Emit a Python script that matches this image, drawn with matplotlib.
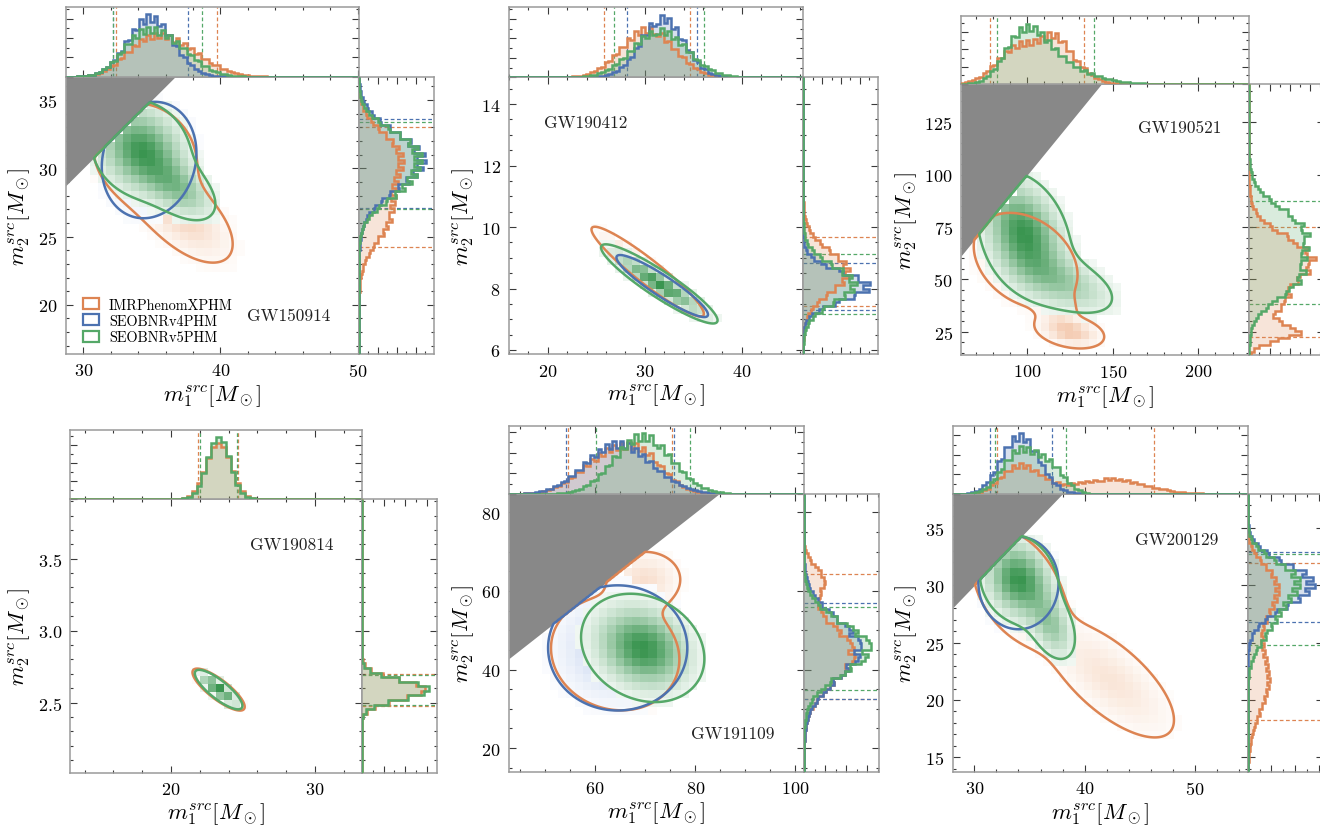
import numpy as np
import matplotlib
matplotlib.use("Agg")
import matplotlib.pyplot as plt
from matplotlib.colors import LinearSegmentedColormap, to_rgb, to_hex
from matplotlib.patches import Patch
from matplotlib.ticker import MultipleLocator, MaxNLocator, AutoMinorLocator

plt.rcParams.update({
    "font.family": "serif",
    "font.serif": ["cmr10", "DejaVu Serif"],
    "mathtext.fontset": "cm",
    "axes.formatter.use_mathtext": True,
    "axes.unicode_minus": False,
})

# ---------------------------------------------------------------------------
# Waveform models and their colours
approximants = ["IMRPhenomXPHM", "SEOBNRv4PHM", "SEOBNRv5PHM"]
colors = ["#DD8452", "#4C72B0", "#55A868"]
# colour reached at the density maximum of each shaded 2D histogram
peak_colors = ["#F4CDB4", "#B9CBEA", "#3A9550"]

events = ["GW150914", "GW190412", "GW190521", "GW190814", "GW191109", "GW200129"]

# Source-frame mass posteriors, summarised as Gaussian mixtures in (m1, m2).
# Each row: (weight, mean m1, mean m2, sd m1, sd m2, correlation)
GW150914_XPHM = [(0.60, 34.5, 31.0, 2.0, 2.0, -0.15), (0.40, 37.3, 26.5, 2.0, 1.9, -0.60)]
GW150914_V4 = [(1.00, 34.8, 30.6, 1.7, 2.1, 0.12)]
GW150914_V5 = [(0.75, 34.2, 31.4, 1.9, 1.9, -0.15), (0.25, 37.0, 28.5, 1.6, 1.4, -0.50)]

GW190412_XPHM = [(1.00, 30.3, 8.55, 2.7, 0.68, -0.94)]
GW190412_V4 = [(1.00, 31.8, 8.08, 2.2, 0.47, -0.92)]
GW190412_V5 = [(1.00, 31.5, 8.15, 2.8, 0.60, -0.92)]

GW190521_XPHM = [(0.72, 99.0, 59.0, 16.0, 12.0, -0.30), (0.10, 116.0, 38.0, 6.0, 5.0, -0.40),
                 (0.18, 125.0, 25.0, 10.0, 4.0, -0.30)]
GW190521_V5 = [(0.75, 98.0, 72.0, 14.0, 15.0, -0.30), (0.25, 122.0, 48.0, 18.0, 9.0, -0.50)]

GW190814_XPHM = [(1.00, 23.3, 2.59, 0.845, 0.068, -0.82)]
GW190814_V5 = [(1.00, 23.3, 2.59, 0.77, 0.064, -0.82)]

GW191109_XPHM = [(0.82, 64.0, 44.0, 6.5, 7.3, -0.10), (0.18, 70.0, 63.0, 4.0, 4.0, 0.00)]
GW191109_V4 = [(1.00, 64.5, 45.5, 6.8, 7.8, 0.00)]
GW191109_V5 = [(1.00, 69.5, 45.5, 5.8, 6.5, -0.20)]

GW200129_XPHM = [(0.55, 34.0, 29.8, 2.0, 2.4, -0.40), (0.45, 42.3, 21.8, 3.2, 2.8, -0.70)]
GW200129_V4 = [(1.00, 34.0, 30.2, 1.8, 2.0, 0.00)]
GW200129_V5 = [(0.75, 34.0, 30.5, 1.8, 2.0, -0.15), (0.25, 37.0, 26.5, 1.3, 1.8, -0.40)]

posteriors = {
    "GW150914": [GW150914_XPHM, GW150914_V4, GW150914_V5],
    "GW190412": [GW190412_XPHM, GW190412_V4, GW190412_V5],
    "GW190521": [GW190521_XPHM, None, GW190521_V5],
    "GW190814": [GW190814_XPHM, None, GW190814_V5],
    "GW191109": [GW191109_XPHM, GW191109_V4, GW191109_V5],
    "GW200129": [GW200129_XPHM, GW200129_V4, GW200129_V5],
}

# ---------------------------------------------------------------------------
# Panel geometry (pixels), axis ranges and tick spacing
W, H = 1320, 828
layout = {
    "GW150914": dict(box=(65.7, 77.7, 359.0, 355.0), top=8.0, xlim=(28.72, 50.1), ylim=(16.4, 36.7),
                     xt=(10, 2), yt=(5, 1), lab=(0.76, 0.138), nb=80),
    "GW190412": dict(box=(509.0, 78.3, 803.3, 355.3), top=8.3, xlim=(16.0, 46.35), ylim=(5.86, 14.87),
                     xt=(10, 2), yt=(2, 0.5), lab=(0.261, 0.838), nb=80),
    "GW190521": dict(box=(961.0, 85.0, 1249.3, 356.0), top=17.3, xlim=(61.2, 229.8), ylim=(13.9, 143.3),
                     xt=(50, 10), yt=(25, 5), lab=(0.758, 0.84), nb=80),
    "GW190814": dict(box=(70.3, 500.0, 361.7, 774.0), top=430.7, xlim=(13.0, 33.24), ylim=(2.01, 3.915),
                     xt=(10, 2), yt=(0.5, 0.1), lab=(0.76, 0.836), nb=60),
    "GW191109": dict(box=(509.0, 495.0, 804.0, 773.0), top=426.7, xlim=(42.8, 101.7), ylim=(13.9, 84.7),
                     xt=(20, 5), yt=(20, 5), lab=(0.76, 0.14), nb=80),
    "GW200129": dict(box=(952.7, 495.0, 1247.7, 773.0), top=426.7, xlim=(28.04, 54.77), ylim=(13.72, 37.96),
                     xt=(10, 2), yt=(5, 1), lab=(0.76, 0.836), nb=80),
}
MARG = 75.0  # width of the right-hand marginal panel in pixels

fig = plt.figure(figsize=(W / 100, H / 100), dpi=100)
fig.patch.set_facecolor("white")


def px_axes(l, t, r, b):
    return fig.add_axes([l / W, 1 - b / H, (r - l) / W, (b - t) / H])


def mixture_density(comps, X, Y):
    Z = np.zeros_like(X)
    for w, mx, my, sx, sy, r in comps:
        dx = (X - mx) / sx
        dy = (Y - my) / sy
        q = (dx * dx - 2 * r * dx * dy + dy * dy) / (1 - r * r)
        Z += w * np.exp(-0.5 * q) / (2 * np.pi * sx * sy * np.sqrt(1 - r * r))
    Z[Y > X] = 0.0  # m1 >= m2 by convention
    return Z


def white_to(color):
    rgb = np.array(to_rgb(color))
    mid = to_hex(0.55 * np.ones(3) + 0.45 * rgb)
    return LinearSegmentedColormap.from_list("w_" + color, [(0.0, "#ffffff"), (0.5, mid), (1.0, color)])


def style_axes(ax, spine="#9a9a9a"):
    for s in ax.spines.values():
        s.set_color(spine)
        s.set_linewidth(1.1)
    ax.tick_params(which="both", direction="in", top=True, right=True, color="#3a3a3a", width=0.8)
    ax.tick_params(which="major", length=5)
    ax.tick_params(which="minor", length=2.5)


for ev in events:
    L = layout[ev]
    l, t, r, b = L["box"]
    (x0, x1), (y0, y1) = L["xlim"], L["ylim"]
    ax = px_axes(l, t, r, b)
    axt = px_axes(l, L["top"], r, t)
    axr = px_axes(r, t, r + MARG, b)

    # fine grid for contours and marginals
    px_pad, py_pad = 0.25 * (x1 - x0), 0.25 * (y1 - y0)
    xs = np.linspace(x0 - px_pad, x1 + px_pad, 900)
    ys = np.linspace(max(y0 - py_pad, 0.0), y1 + py_pad, 900)
    X, Y = np.meshgrid(xs, ys)

    # coarse grid for the shaded density
    ncx = 36
    ncy = int(round(ncx * (b - t) / (r - l)))
    cxe = np.linspace(x0, x1, ncx + 1)
    cye = np.linspace(y0, y1, ncy + 1)
    CX, CY = np.meshgrid(0.5 * (cxe[1:] + cxe[:-1]), 0.5 * (cye[1:] + cye[:-1]))

    xedges = np.linspace(x0, x1, L["nb"] + 1)
    yedges = np.linspace(y0, y1, L["nb"] + 1)

    hx_max, hy_max = 0.0, 0.0
    for k, comps in enumerate(posteriors[ev]):
        if comps is None:
            continue
        c = colors[k]
        Z = mixture_density(comps, X, Y)

        # 90% highest-density region
        zs = np.sort(Z.ravel())[::-1]
        cum = np.cumsum(zs)
        cum /= cum[-1]
        level = zs[np.searchsorted(cum, 0.9)]

        # shaded density on the coarse grid
        ZC = mixture_density(comps, CX, CY)
        ZC_m = np.ma.masked_less(ZC, 0.08 * ZC.max())
        ax.pcolormesh(cxe, cye, ZC_m, cmap=white_to(peak_colors[k]), vmin=0, vmax=ZC.max(),
                      zorder=1 + 0.1 * k, shading="flat", edgecolors="none", antialiased=False)

        ax.contour(xs, ys, Z, levels=[level], colors=[c], linewidths=1.8, zorder=3 + 0.1 * k)

        # marginals
        mx = Z.sum(axis=0)
        my = Z.sum(axis=1)
        tot = mx.sum()
        hx, _ = np.histogram(xs, bins=xedges, weights=mx)
        hy, _ = np.histogram(ys, bins=yedges, weights=my)
        hx = hx / tot / np.diff(xedges)
        hy = hy / tot / np.diff(yedges)
        hx_max = max(hx_max, hx.max())
        hy_max = max(hy_max, hy.max())

        cdfx = np.cumsum(mx) / tot
        cdfy = np.cumsum(my) / tot
        qx = np.interp([0.05, 0.95], cdfx, xs)
        qy = np.interp([0.05, 0.95], cdfy, ys)

        axt.stairs(hx, xedges, fill=True, color=c, alpha=0.22, lw=0, zorder=2)
        axt.stairs(hx, xedges, color=c, lw=1.8, zorder=3 + 0.1 * k)
        axr.stairs(hy, yedges, orientation="horizontal", fill=True, color=c, alpha=0.22, lw=0, zorder=2)
        axr.stairs(hy, yedges, orientation="horizontal", color=c, lw=1.8, zorder=3 + 0.1 * k)
        for q in qx:
            axt.axvline(q, color=c, lw=0.9, ls=(0, (3, 2)), zorder=1)
        for q in qy:
            axr.axhline(q, color=c, lw=0.9, ls=(0, (3, 2)), zorder=1)

    # excluded region m2 > m1
    tx = np.linspace(x0, x1, 400)
    ax.fill_between(tx, np.clip(tx, y0, y1), y1, where=tx < y1, color="#888888", lw=0, zorder=2)

    ax.set_xlim(x0, x1)
    ax.set_ylim(y0, y1)
    ax.xaxis.set_major_locator(MultipleLocator(L["xt"][0]))
    ax.xaxis.set_minor_locator(MultipleLocator(L["xt"][1]))
    ax.yaxis.set_major_locator(MultipleLocator(L["yt"][0]))
    ax.yaxis.set_minor_locator(MultipleLocator(L["yt"][1]))
    style_axes(ax)
    ax.tick_params(labelsize=13, pad=6)
    ax.set_xlabel(r"$m_1^{src}[M_\odot]$", fontsize=16.5, labelpad=2)
    ax.set_ylabel(r"$m_2^{src}[M_\odot]$", fontsize=16.5, labelpad=4)
    ax.text(L["lab"][0], L["lab"][1], ev, transform=ax.transAxes, ha="center", va="center",
            fontsize=12.5, color="#222222", zorder=5)

    axt.set_xlim(x0, x1)
    axt.set_ylim(0, hx_max * 1.12)
    axt.xaxis.set_major_locator(MultipleLocator(L["xt"][0]))
    axt.xaxis.set_minor_locator(MultipleLocator(L["xt"][1]))
    axt.yaxis.set_major_locator(MaxNLocator(4))
    axt.yaxis.set_minor_locator(AutoMinorLocator(2))
    style_axes(axt)
    axt.tick_params(labelbottom=False, labelleft=False)

    axr.set_ylim(y0, y1)
    axr.set_xlim(0, hy_max * 1.12)
    axr.yaxis.set_major_locator(MultipleLocator(L["yt"][0]))
    axr.yaxis.set_minor_locator(MultipleLocator(L["yt"][1]))
    axr.xaxis.set_major_locator(MaxNLocator(4))
    axr.xaxis.set_minor_locator(AutoMinorLocator(2))
    style_axes(axr)
    axr.tick_params(labelbottom=False, labelleft=False)

    if ev == "GW150914":
        handles = [Patch(facecolor="none", edgecolor=c, linewidth=1.6) for c in colors]
        ax.legend(handles, approximants, loc="upper left", bbox_to_anchor=(0.035, 0.228),
                  frameon=False, fontsize=10.3, borderpad=0, handlelength=1.1, handleheight=0.8,
                  handletextpad=0.7, labelspacing=0.18)

fig.savefig("out.png", dpi=100, facecolor="white")
